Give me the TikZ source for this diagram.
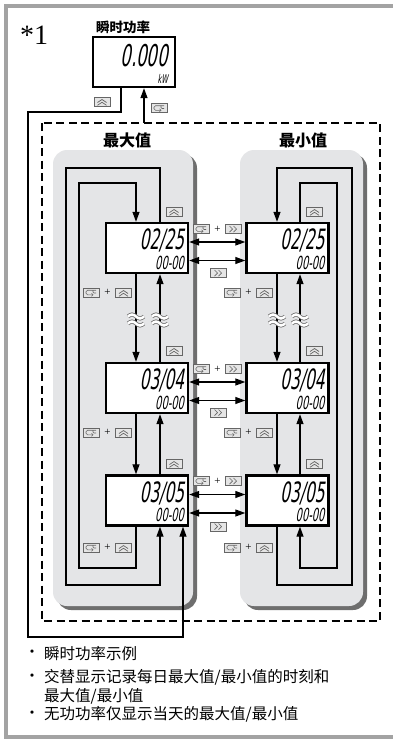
\documentclass[tikz,border=0pt]{standalone}
\usepackage{fontspec}
\setmainfont{Liberation Serif}
\newfontfamily\cjk{Noto Sans CJK SC}
\newfontfamily\lcd{DejaVu Sans}[FakeStretch=0.55,FakeSlant=0.18]
\usetikzlibrary{arrows.meta,calc}
\definecolor{panelgray}{HTML}{E4E5E7}
\definecolor{shadowgray}{HTML}{6E6E6E}
\definecolor{framegray}{HTML}{A3A3A3}
\tikzset{
  ln/.style={line width=1.2pt, black},
  arr/.style={ln, -{Triangle[length=10pt,width=7pt]}},
  dbl/.style={ln, {Triangle[length=10pt,width=7pt]}-{Triangle[length=10pt,width=7pt]}},
  lcdbox/.style={draw, line width=2.4pt, fill=white, minimum width=82pt, minimum height=50pt, inner sep=0pt},
  keybox/.style={draw=black!60, fill=black!10, line width=0.55pt, minimum width=16pt, minimum height=9pt, inner sep=0pt},
  upkey/.style={keybox, path picture={
     \draw[line width=0.7pt] ($(path picture bounding box.center)+(-4.5,1)$) -- ++(4.5,-3) -- ++(4.5,3);
     \draw[line width=0.7pt] ($(path picture bounding box.center)+(-4.5,3.8)$) -- ++(4.5,-3) -- ++(4.5,3);}},
  rtkey/.style={keybox, path picture={
     \draw[line width=0.7pt] ($(path picture bounding box.center)+(-4,-3)$) -- ++(3,3) -- ++(-3,3);
     \draw[line width=0.7pt] ($(path picture bounding box.center)+(0,-3)$) -- ++(3,3) -- ++(-3,3);}},
  retkey/.style={keybox, path picture={
     \draw[line width=0.6pt, rounded corners=1.5pt] ($(path picture bounding box.center)+(5,-2.3)$) -- ($(path picture bounding box.center)+(-5,-2.3)$) -- ($(path picture bounding box.center)+(-5,2.3)$) -- ($(path picture bounding box.center)+(2,2.3)$);
     \draw[line width=0.6pt] ($(path picture bounding box.center)+(0.5,0.8)$) -- ($(path picture bounding box.center)+(2,2.3)$) -- ($(path picture bounding box.center)+(0.5,3.8)$);
     \draw[line width=0.6pt, rounded corners=1pt] ($(path picture bounding box.center)+(2,-2.3)$) -- ($(path picture bounding box.center)+(2,0.5)$) -- ($(path picture bounding box.center)+(5,0.5)$);}},
  plus/.style={font=\fontsize{11}{11}\selectfont, inner sep=0pt},
  digits/.style={anchor=south east, align=right, inner sep=0pt, font=\lcd\fontsize{18}{19.5}\selectfont},
  note/.style={anchor=west, inner sep=0pt, font=\cjk\fontsize{15.5}{18}\selectfont},
  dot/.style={inner sep=0pt, font=\cjk\fontsize{15.5}{18}\selectfont},
  ttl/.style={font=\cjk\bfseries\fontsize{16}{16}\selectfont},
  brkout/.style={black!55, line width=4pt},
  brkin/.style={white, line width=2.4pt}
}
\newcommand\combo[4]{%
  \node[retkey] (#1a) at (#2-16.5,#3) {};
  \node[plus] (#1b) at (#2,#3) {+};
  \node[#4] (#1c) at (#2+16,#3) {};}
\newcommand\brkmark[2]{%
  \begin{scope}[shift={(#1,#2)}]
    \foreach \dy in {-3.5,3.5}{
      \draw[brkout] (-8,\dy) sin (-4,\dy-2) cos (0,\dy) sin (4,\dy+2) cos (8,\dy);
      \draw[brkin] (-8,\dy) sin (-4,\dy-2) cos (0,\dy) sin (4,\dy+2) cos (8,\dy);}
  \end{scope}}
\newcommand\lcdtext[3]{%
  \node[digits] (#1txt) at ($(#1.south east)+(-5,-4.5)$) {{\fontsize{28}{19.5}\selectfont #2}\\#3};}
\begin{document}
\begin{tikzpicture}[x=1pt,y=-1pt]
\useasboundingbox (0,0) rectangle (393,739);
% outer frame
\draw[color=framegray, line width=4pt] (396,6) -- (6,6) -- (6,736.5) -- (396,736.5);
% heading
\node[anchor=base west, inner sep=0pt, font=\fontsize{28}{28}\selectfont] (star) at (20,44) {*1};
\node[font=\cjk\bfseries\fontsize{13.5}{14}\selectfont] (ptitle) at (123,27) {瞬时功率};
% dashed region
\draw[ln, dash pattern=on 8pt off 4.5pt] (42,123) rectangle (380,621);
% panels
\fill[shadowgray, rounded corners=14pt] (57,154) rectangle (197,610);
\fill[panelgray, rounded corners=14pt] (53,150) rectangle (193,606);
\fill[shadowgray, rounded corners=14pt] (244,154) rectangle (367,610);
\fill[panelgray, rounded corners=14pt] (240,150) rectangle (363,606);
\node[ttl] (tmax) at (127,140) {最大值};
\node[ttl] (tmin) at (303,140) {最小值};
% displays
\node[lcdbox] (P) at (134,62) {};
\node[lcdbox] (L1) at (147,248) {};
\node[lcdbox] (L2) at (147,388) {};
\node[lcdbox] (L3) at (147,500.5) {};
\node[lcdbox] (R1) at (287.5,248) {};
\node[lcdbox] (R2) at (287.5,388) {};
\node[lcdbox] (R3) at (287.5,500.5) {};
% column coordinates
\coordinate (pc) at (121,0);
\coordinate (ca) at (136,0);
\coordinate (cb) at (160,0);
\coordinate (ce) at (183,0);
\coordinate (rc) at (277,0);
\coordinate (rd) at (300,0);
\coordinate (T1) at (28,112);
\coordinate (T2) at (28,637);
\coordinate (dt) at (144,123);
\coordinate (Lo1) at (66,168);
\coordinate (Lo2) at (66,585);
\coordinate (Li1) at (79,568);
\coordinate (Li2) at (79,183);
\coordinate (Ro1) at (352,585);
\coordinate (Ro2) at (352,168);
\coordinate (Ri1) at (337,183);
\coordinate (Ri2) at (337,568);
% top display connections
\draw[arr] (pc |- P.south) |- (T1) -- (T2) -| (ce |- L3.south);
\draw[arr] (dt) -- (dt |- P.south);
% left loops
\draw[arr] (cb |- L1.north) |- (Lo1) -- (Lo2) -| (cb |- L3.south);
\draw[arr] (ca |- L3.south) |- (Li1) -- (Li2) -| (ca |- L1.north);
% right loops
\draw[arr] (rc |- R3.south) |- (Ro1) -- (Ro2) -| (rc |- R1.north);
\draw[arr] (rd |- R1.north) |- (Ri1) -- (Ri2) -| (rd |- R3.south);
% vertical steps
\draw[arr] (ca |- L1.south) -- (ca |- L2.north);
\draw[arr] (cb |- L2.north) -- (cb |- L1.south);
\draw[arr] (ca |- L2.south) -- (ca |- L3.north);
\draw[arr] (cb |- L3.north) -- (cb |- L2.south);
\draw[arr] (rc |- R1.south) -- (rc |- R2.north);
\draw[arr] (rd |- R2.north) -- (rd |- R1.south);
\draw[arr] (rc |- R2.south) -- (rc |- R3.north);
\draw[arr] (rd |- R3.north) -- (rd |- R2.south);
% break marks
\brkmark{136}{320}
\brkmark{160}{320}
\brkmark{277}{320}
\brkmark{300}{320}
% horizontal links
\draw[dbl] ([yshift=6pt]L1.east) -- ([yshift=6pt]R1.west);
\draw[dbl] ([yshift=-12.5pt]L1.east) -- ([yshift=-12.5pt]R1.west);
\draw[dbl] ([yshift=6pt]L2.east) -- ([yshift=6pt]R2.west);
\draw[dbl] ([yshift=-12.5pt]L2.east) -- ([yshift=-12.5pt]R2.west);
\draw[dbl] ([yshift=6pt]L3.east) -- ([yshift=6pt]R3.west);
\draw[dbl] ([yshift=-12.5pt]L3.east) -- ([yshift=-12.5pt]R3.west);
% display contents
\node[anchor=south east, align=right, inner sep=0pt, font=\lcd\fontsize{12}{17}\selectfont] (Ptxt) at ($(P.south east)+(-8,-5)$) {{\fontsize{30}{17}\selectfont 0.000}\\kW};
\lcdtext{L1}{02/25}{00-00}
\lcdtext{L2}{03/04}{00-00}
\lcdtext{L3}{03/05}{00-00}
\lcdtext{R1}{02/25}{00-00}
\lcdtext{R2}{03/04}{00-00}
\lcdtext{R3}{03/05}{00-00}
% key labels
\node[upkey] (kP) at (102,101.5) {};
\node[retkey] (kR) at (159,108) {};
\node[upkey] (kL1) at (174,211.5) {};
\node[upkey] (kL2) at (174,350.5) {};
\node[upkey] (kL3) at (174,463.5) {};
\node[upkey] (kR1) at (314.5,211.5) {};
\node[upkey] (kR2) at (314.5,350.5) {};
\node[upkey] (kR3) at (314.5,463.5) {};
\combo{cl1}{107.5}{292.5}{upkey}
\combo{cl2}{107.5}{432.5}{upkey}
\combo{cl3}{107.5}{547.5}{upkey}
\combo{cr1}{248.5}{292.5}{upkey}
\combo{cr2}{248.5}{432.5}{upkey}
\combo{cr3}{248.5}{547.5}{upkey}
\combo{cm1}{217.5}{229}{rtkey}
\combo{cm2}{217.5}{369}{rtkey}
\combo{cm3}{217.5}{481}{rtkey}
\node[rtkey] (km1) at (218.5,273) {};
\node[rtkey] (km2) at (218.5,412.5) {};
\node[rtkey] (km3) at (218.5,526.5) {};
% notes
\node[dot] (d1) at (32,654) {·};
\node[note] (n1) at (44,654) {瞬时功率示例};
\node[dot] (d2) at (32,677.5) {·};
\node[note] (n2) at (44,677.5) {交替显示记录每日最大值/最小值的时刻和};
\node[note] (n3) at (44,696) {最大值/最小值};
\node[dot] (d4) at (32,714.5) {·};
\node[note] (n4) at (44,714.5) {无功功率仅显示当天的最大值/最小值};
\end{tikzpicture}
\end{document}
